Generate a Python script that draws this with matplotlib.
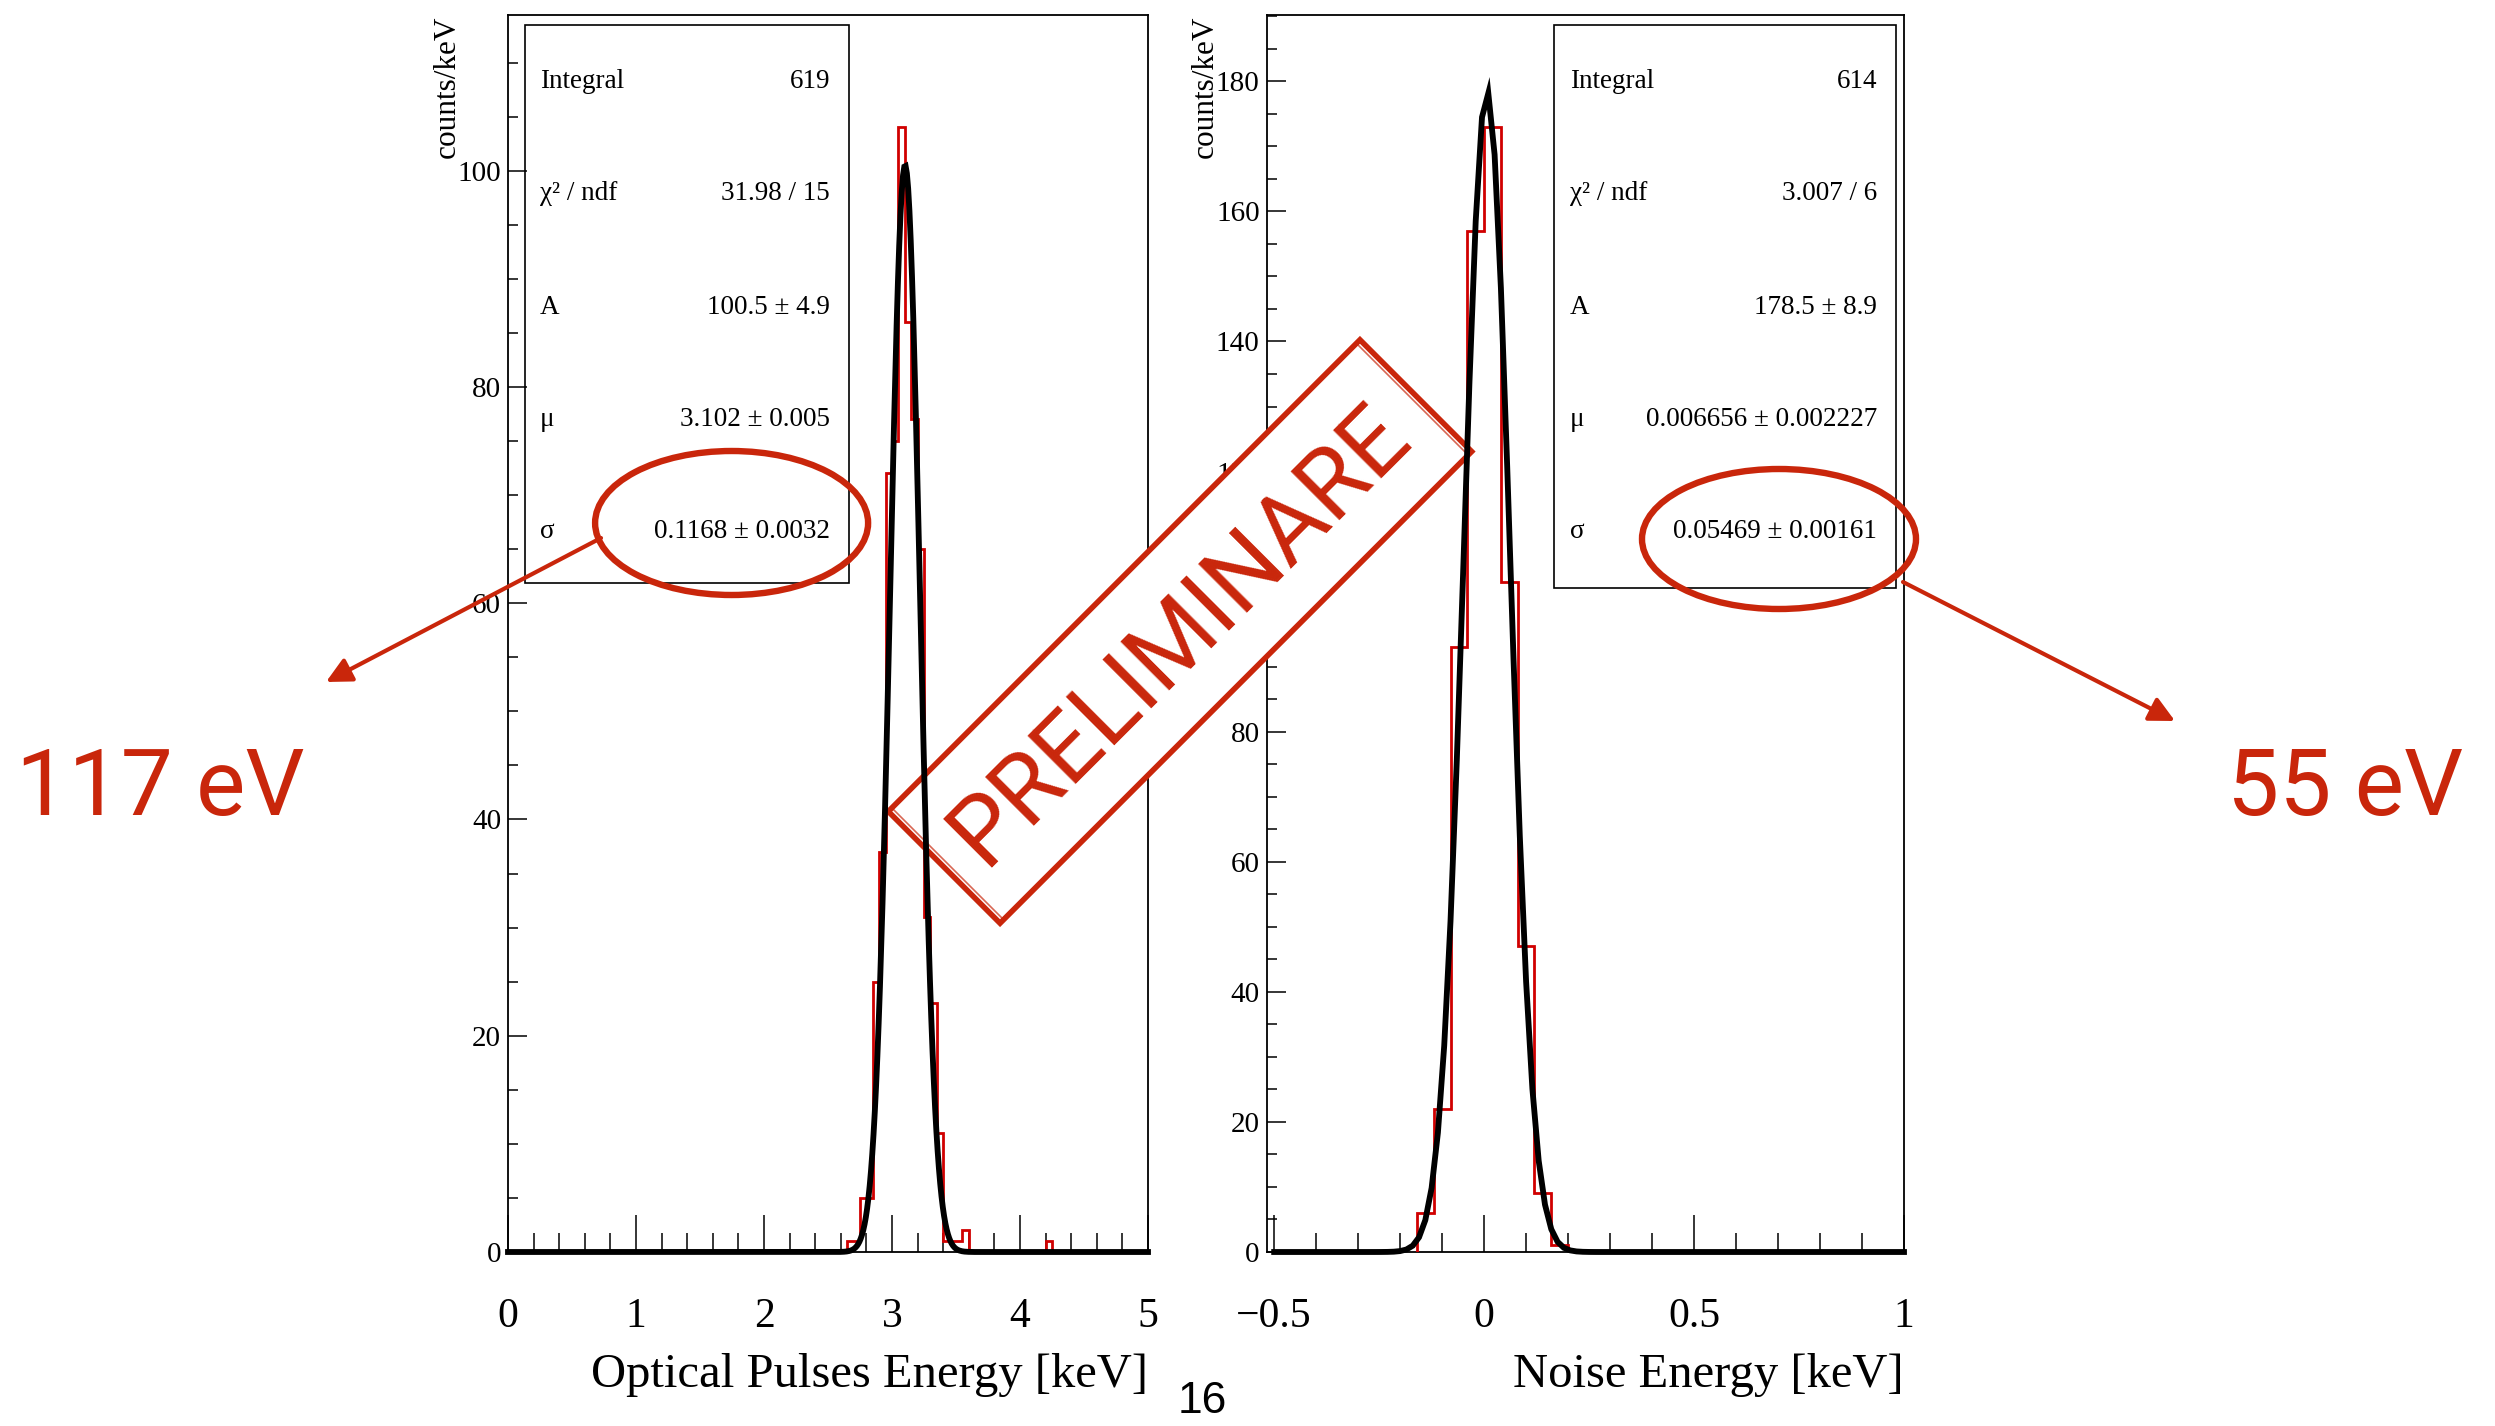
import numpy as np
import matplotlib.pyplot as plt
from matplotlib.patches import Ellipse, Polygon, Rectangle
from matplotlib.ticker import MultipleLocator

plt.rcParams['font.family'] = ['Liberation Serif', 'DejaVu Serif']

W, H = 2495, 1426          # output size in pixels
RED = '#c9260b'            # slide annotation colour
HIST_RED = '#d00000'
SLIDE_FONT = ['Roboto', 'DejaVu Sans']

# --- data -------------------------------------------------------------------
# optical pulses spectrum (counts/keV), bin edges in keV
opt_edges = [2.65, 2.70, 2.75, 2.80, 2.85, 2.90, 2.95, 3.00, 3.05, 3.10, 3.15,
             3.20, 3.25, 3.30, 3.35, 3.40, 3.45, 3.50, 3.55, 3.60, 4.20, 4.25]
opt_counts = [1, 1, 5, 5, 25, 37, 72, 75, 104, 86, 77,
              65, 31, 23, 11, 1, 1, 1, 2, 0, 1]
opt_A, opt_mu, opt_sigma = 100.5, 3.102, 0.1168

# noise spectrum
noise_edges = [-0.16, -0.12, -0.08, -0.04, 0.00, 0.04, 0.08, 0.12, 0.16, 0.20]
noise_counts = [6, 22, 93, 157, 173, 103, 47, 9, 1]
noise_A, noise_mu, noise_sigma = 178.5, 0.006656, 0.05469

stat_names = ['Integral', 'χ² / ndf', 'A', 'μ', 'σ']
opt_stats = ['619', '31.98 / 15', '100.5 ± 4.9', '3.102 ± 0.005', '0.1168 ± 0.0032']
noise_stats = ['614', '3.007 / 6', '178.5 ± 8.9', '0.006656 ± 0.002227', '0.05469 ± 0.00161']

opt_xticks = [0, 1, 2, 3, 4, 5]
opt_xlabels = ['0', '1', '2', '3', '4', '5']
noise_xticks = [-0.5, 0, 0.5, 1]
noise_xlabels = ['\u22120.5', '0', '0.5', '1']
opt_yticks = [0, 20, 40, 60, 80, 100]
noise_yticks = [0, 20, 40, 60, 80, 100, 120, 140, 160, 180]


def px_rect(x0, y0, x1, y1):
    return [x0 / W, 1 - y1 / H, (x1 - x0) / W, (y1 - y0) / H]


def gauss(x, A, mu, s):
    return A * np.exp(-0.5 * ((x - mu) / s) ** 2)


fig = plt.figure(figsize=(W / 100, H / 100), dpi=100)

panels = [
    dict(rect=(508, 15, 1148, 1252), xlim=(0, 5), ylim=(0, 114.4), fitrange=(0, 5),
         xticks=opt_xticks, xlabels=opt_xlabels, xminor=0.2, yticks=opt_yticks,
         xlabel='Optical Pulses Energy [keV]', edges=opt_edges, counts=opt_counts,
         fit=(opt_A, opt_mu, opt_sigma), npx=500),
    dict(rect=(1266.6, 15, 1904, 1252), xlim=(-0.518, 1.0), ylim=(0, 190.2), fitrange=(-0.5, 1),
         xticks=noise_xticks, xlabels=noise_xlabels, xminor=0.1, yticks=noise_yticks,
         xlabel='Noise Energy [keV]', edges=noise_edges, counts=noise_counts,
         fit=(noise_A, noise_mu, noise_sigma), npx=101),
]

for p in panels:
    # frame, ticks and labels (bottom layer)
    ax = fig.add_axes(px_rect(*p['rect']), zorder=0)
    ax.set_xlim(*p['xlim'])
    ax.set_ylim(*p['ylim'])
    for sp in ax.spines.values():
        sp.set_linewidth(1.3)
    ax.set_xticks(p['xticks'])
    ax.set_xticklabels(p['xlabels'])
    ax.set_yticks(p['yticks'])
    ax.xaxis.set_minor_locator(MultipleLocator(p['xminor']))
    ax.yaxis.set_minor_locator(MultipleLocator(5))
    ax.tick_params(axis='both', which='both', direction='in', top=False, right=False,
                   width=1.1, color='black')
    ax.tick_params(axis='x', which='major', length=27, pad=33, labelsize=30)
    ax.tick_params(axis='x', which='minor', length=13.5)
    ax.tick_params(axis='y', which='major', length=13.5, pad=5, labelsize=21)
    ax.tick_params(axis='y', which='minor', length=7)
    ax.annotate(p['xlabel'], xy=(1, 0), xycoords='axes fraction',
                xytext=(0, -135), textcoords='offset pixels',
                ha='right', va='baseline', fontsize=35)
    ax.annotate('counts/keV', xy=(0, 1), xycoords='axes fraction',
                xytext=(-61, 0), textcoords='offset pixels',
                rotation=90, ha='center', va='top', fontsize=22.5)

    # histogram + fit (top layer, above the stamp)
    axd = fig.add_axes(px_rect(*p['rect']), zorder=2, sharex=ax, sharey=ax)
    axd.set_axis_off()
    axd.patch.set_alpha(0)
    axd.stairs(p['counts'], p['edges'], color=HIST_RED, lw=2.0)
    xs = np.linspace(p['fitrange'][0], p['fitrange'][1], p['npx'])
    axd.plot(xs, gauss(xs, *p['fit']), color='black', lw=4.2,
             solid_joinstyle='miter', clip_on=False)

# --- pixel-coordinate layers ---------------------------------------------------
mid = fig.add_axes([0, 0, 1, 1], zorder=1)
mid.set_xlim(0, W)
mid.set_ylim(H, 0)
mid.set_axis_off()
mid.patch.set_alpha(0)

# stat boxes
boxes = [((524.6, 24.5, 849, 583), 540, 830, opt_stats),
         ((1553.5, 25, 1895.6, 588), 1569.6, 1877, noise_stats)]
row_y = [81, 194, 307, 419, 531]
for (x0, y0, x1, y1), xl, xr, vals in boxes:
    mid.add_patch(Rectangle((x0, y0), x1 - x0, y1 - y0, fill=False, ec='black', lw=1.2))
    for name, val, y in zip(stat_names, vals, row_y):
        mid.text(xl, y, name, ha='left', va='center', fontsize=19.5)
        mid.text(xr, y, val, ha='right', va='center', fontsize=19.5)

# "PRELIMINARE" stamp
cx, cy, half_l, half_s = 1180, 631.5, 333.5, 79
u = np.array([np.cos(np.pi / 4), -np.sin(np.pi / 4)])
v = np.array([np.sin(np.pi / 4), np.cos(np.pi / 4)])
c = np.array([cx, cy])
corners = [c + u * half_l - v * half_s, c + u * half_l + v * half_s,
           c - u * half_l + v * half_s, c - u * half_l - v * half_s]
mid.add_patch(Polygon(corners, closed=True, fc='white', ec=RED, lw=4.0, joinstyle='miter'))
inner = [c + (k - c) * 0.985 for k in corners]
mid.add_patch(Polygon(inner, closed=True, fill=False, ec=RED, lw=1.2, alpha=0.7))
mid.text(cx, cy + 4, 'PRELIMINARE', rotation=45, rotation_mode='anchor',
         ha='center', va='center', fontsize=69, color=RED, family=SLIDE_FONT)

top = fig.add_axes([0, 0, 1, 1], zorder=3)
top.set_xlim(0, W)
top.set_ylim(H, 0)
top.set_axis_off()
top.patch.set_alpha(0)

top.add_patch(Ellipse((731.6, 523), 273, 144, fill=False, ec=RED, lw=4.6))
top.add_patch(Ellipse((1779, 539), 274, 140, fill=False, ec=RED, lw=4.6))
top.annotate('', xy=(326, 682), xytext=(601, 538),
             arrowprops=dict(arrowstyle='-|>', color=RED, lw=3, mutation_scale=38,
                             shrinkA=0, shrinkB=0))
top.annotate('', xy=(2175, 721), xytext=(1903, 582),
             arrowprops=dict(arrowstyle='-|>', color=RED, lw=3, mutation_scale=38,
                             shrinkA=0, shrinkB=0))
top.text(16, 815, '117 eV', ha='left', va='baseline', fontsize=67, color=RED,
         family=SLIDE_FONT)
top.text(2463, 815, '55 eV', ha='right', va='baseline', fontsize=67, color=RED,
         family=SLIDE_FONT)
top.text(1202, 1381, '16', ha='center', va='top', fontsize=32,
         family=['Liberation Sans', 'DejaVu Sans'])

fig.savefig('out.png', dpi=100)
